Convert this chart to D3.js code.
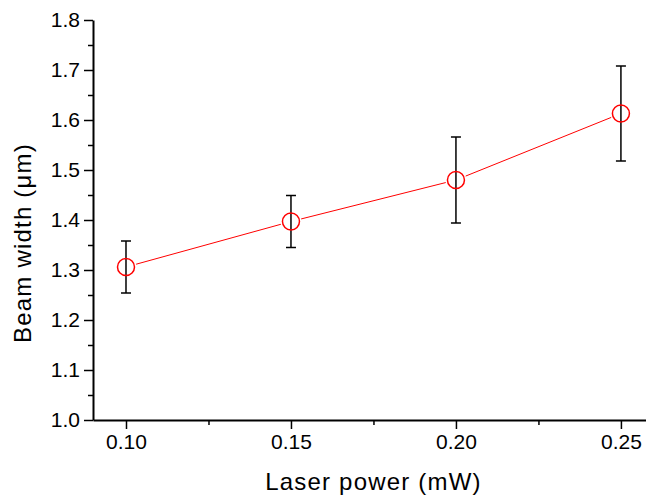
<!DOCTYPE html>
<html>
<head>
<meta charset="utf-8">
<script src="https://cdn.jsdelivr.net/npm/d3@7"></script>
<style>
  body { margin: 0; background: #fff; }
  text { font-family: "Liberation Sans", Arial, sans-serif; fill: #000; }
</style>
</head>
<body>
<div id="chart"></div>
<script>
// data
let power = [0.10, 0.15, 0.20, 0.25]
let beamWidth = [1.306, 1.397, 1.480, 1.613]
let errWidth = [0.052, 0.052, 0.086, 0.095]
let xTicks = [0.10, 0.15, 0.20, 0.25]
let xMinor = [0.125, 0.175, 0.225]
let yTicks = [1.0, 1.1, 1.2, 1.3, 1.4, 1.5, 1.6, 1.7, 1.8]
let yMinor = [1.05, 1.15, 1.25, 1.35, 1.45, 1.55, 1.65, 1.75]

var width = 646, height = 495
var margin = {top: 20, right: 0, bottom: 75, left: 93}

var svg = d3.select("#chart")
  .append("svg")
  .attr("width", width)
  .attr("height", height)

var x = d3.scaleLinear()
  .domain([0.09, 0.2576])
  .range([margin.left, width - margin.right])

var y = d3.scaleLinear()
  .domain([1.0, 1.8])
  .range([height - margin.bottom, margin.top])

// minor ticks
svg.append("g")
  .attr("transform", "translate(0," + (height - margin.bottom) + ")")
  .call(d3.axisBottom(x).tickValues(xMinor).tickSize(5).tickFormat(""))
  .call(g => g.select(".domain").remove())
  .call(g => g.selectAll("line").attr("stroke-width", 1.5))

svg.append("g")
  .attr("transform", "translate(" + margin.left + ",0)")
  .call(d3.axisLeft(y).tickValues(yMinor).tickSize(5).tickFormat(""))
  .call(g => g.select(".domain").remove())
  .call(g => g.selectAll("line").attr("stroke-width", 1.5))

// major axes
svg.append("g")
  .attr("transform", "translate(0," + (height - margin.bottom) + ")")
  .call(d3.axisBottom(x).tickValues(xTicks).tickSize(9).tickSizeOuter(0).tickPadding(5).tickFormat(d3.format(".2f")))
  .call(g => g.select(".domain").attr("stroke-width", 2))
  .call(g => g.selectAll("line").attr("stroke-width", 1.5))
  .call(g => g.selectAll("text").style("font-size", "21px").attr("font-family", null))

svg.append("g")
  .attr("transform", "translate(" + margin.left + ",0)")
  .call(d3.axisLeft(y).tickValues(yTicks).tickSize(9).tickSizeOuter(0).tickPadding(4).tickFormat(d3.format(".1f")))
  .call(g => g.select(".domain").attr("stroke-width", 2))
  .call(g => g.selectAll("line").attr("stroke-width", 1.5))
  .call(g => g.selectAll("text").style("font-size", "21px").attr("font-family", null))

// line segments between markers, cut at circle edge
let r = 8.5
for (let i = 0; i < power.length - 1; i++) {
  let x1 = x(power[i]), y1 = y(beamWidth[i])
  let x2 = x(power[i + 1]), y2 = y(beamWidth[i + 1])
  let len = Math.hypot(x2 - x1, y2 - y1)
  let dx = (x2 - x1) / len, dy = (y2 - y1) / len
  svg.append("line")
    .attr("x1", x1 + dx * (r + 2)).attr("y1", y1 + dy * (r + 2))
    .attr("x2", x2 - dx * (r + 2)).attr("y2", y2 - dy * (r + 2))
    .attr("stroke", "#ff0000")
    .attr("stroke-width", 1)
}

// error bars
let bars = svg.append("g").attr("stroke", "#000").attr("stroke-width", 1.5)
power.forEach((p, i) => {
  let cx = x(p)
  let top = y(beamWidth[i] + errWidth[i]), bot = y(beamWidth[i] - errWidth[i])
  bars.append("line").attr("x1", cx).attr("x2", cx).attr("y1", top).attr("y2", bot)
  bars.append("line").attr("x1", cx - 5).attr("x2", cx + 5).attr("y1", top).attr("y2", top)
  bars.append("line").attr("x1", cx - 5).attr("x2", cx + 5).attr("y1", bot).attr("y2", bot)
})

// markers
svg.selectAll(".pt")
  .data(power)
  .enter().append("circle")
  .attr("cx", d => x(d))
  .attr("cy", (d, i) => y(beamWidth[i]))
  .attr("r", r)
  .attr("fill", "none")
  .attr("stroke", "#ff0000")
  .attr("stroke-width", 1.5)

// axis titles
svg.append("text")
  .attr("x", (x(0.09) + width) / 2 + 4)
  .attr("y", 490)
  .attr("text-anchor", "middle")
  .style("font-size", "24px")
  .style("letter-spacing", "1.2px")
  .text("Laser power (mW)")

svg.append("text")
  .attr("transform", "translate(31," + 243 + ") rotate(-90)")
  .attr("text-anchor", "middle")
  .style("font-size", "24px")
  .style("letter-spacing", "1.2px")
  .text("Beam width (\u03bcm)")
</script>
</body>
</html>
